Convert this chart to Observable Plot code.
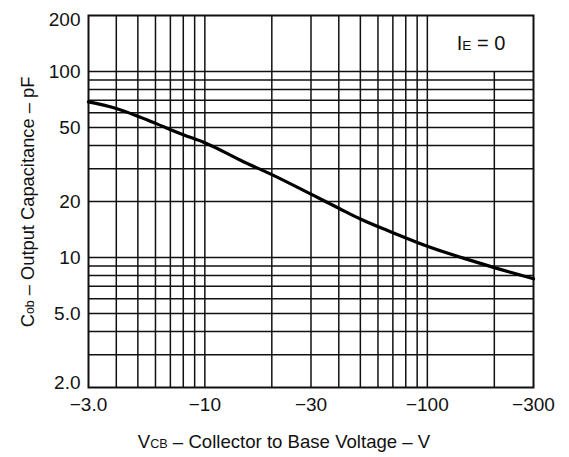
<!DOCTYPE html>
<html>
<head>
<meta charset="utf-8">
<script src="https://cdn.jsdelivr.net/npm/d3@7"></script>
<script src="https://cdn.jsdelivr.net/npm/@observablehq/plot@0.6"></script>
<style>
  html, body { margin: 0; padding: 0; background: #fff; }
  svg { display: block; }
</style>
</head>
<body>
<div id="chart"></div>
<script>
// Collector-base reverse voltage magnitude (V) and output capacitance (pF)
const vcb = [3, 4, 5, 6, 8, 10, 15, 20, 30, 40, 50, 70, 100, 150, 200, 300];
const cob = [68.6, 63.2, 57.4, 52.6, 45.7, 41.4, 32.6, 27.9, 21.9, 18.4, 16.1, 13.6, 11.5, 9.8, 8.82, 7.68];

const xTicks = [3, 10, 30, 100, 300];
const xTickLabels = ["\u22123.0", "\u221210", "\u221230", "\u2212100", "\u2212300"];
const yTicksMid = [5, 10, 20, 50, 100];
const yTickLabels = {2: "2.0", 5: "5.0", 10: "10", 20: "20", 50: "50", 100: "100", 200: "200"};

const xGrid = [4, 5, 6, 7, 8, 9, 10, 20, 30, 40, 50, 60, 70, 80, 90, 100];
const xGridShort = [200];
const yGrid = [3, 4, 5, 6, 7, 8, 9, 10, 20, 30, 40, 50, 60, 70, 80, 90, 100];

const curve = vcb.map((v, i) => ({v, c: cob[i]}));
const FONT = "Liberation Sans, Arial, Helvetica, sans-serif";
const ink = "#111";

const chart = Plot.plot({
  width: 569,
  height: 457,
  marginLeft: 88,
  marginRight: 36,
  marginTop: 15,
  marginBottom: 70,
  style: {fontFamily: FONT, background: "#fff", color: ink},
  x: {type: "log", domain: [3, 300]},
  y: {type: "log", domain: [2, 200]},
  marks: [
    Plot.ruleX(xGrid, {y1: 2, y2: 200, stroke: ink, strokeWidth: 1.5}),
    Plot.ruleX(xGridShort, {y1: 2, y2: 100, stroke: ink, strokeWidth: 1.5}),
    Plot.ruleY(yGrid, {x1: 3, x2: 300, stroke: ink, strokeWidth: 1.5}),
    Plot.frame({stroke: ink, strokeWidth: 2}),
    Plot.line(curve, {x: "v", y: "c", curve: "monotone-x", stroke: "#000", strokeWidth: 3.2}),
    Plot.axisX({ticks: xTicks, tickFormat: d => xTickLabels[xTicks.indexOf(d)], tickSize: 0, tickPadding: 10, fontSize: 19, label: null, fill: ink}),
    Plot.axisY({ticks: yTicksMid, tickFormat: d => yTickLabels[d], tickSize: 0, tickPadding: 8, fontSize: 19, label: null, fill: ink}),
    Plot.axisY({ticks: [200], tickFormat: d => yTickLabels[d], tickSize: 0, tickPadding: 8, fontSize: 19, label: null, dy: 4, fill: ink}),
    Plot.axisY({ticks: [2], tickFormat: d => yTickLabels[d], tickSize: 0, tickPadding: 8, fontSize: 19, label: null, dy: -5, fill: ink})
  ]
});

document.getElementById("chart").append(chart);

// Axis titles and annotation with small baseline "subscripts"
const svg = d3.select(chart);
function addLabel(parts, x, y, size, rotate) {
  const t = svg.append("text")
    .attr("x", x).attr("y", y)
    .attr("text-anchor", "middle")
    .attr("font-family", FONT)
    .attr("font-size", size)
    .attr("fill", ink);
  if (rotate) t.attr("transform", `rotate(-90, ${x}, ${y})`);
  for (const [s, small] of parts) {
    t.append("tspan").attr("font-size", small ? size * 0.68 : size).text(s);
  }
}
addLabel([["V", false], ["CB", true], [" \u2013 Collector to Base Voltage \u2013 V", false]], 284, 448, 18.6, false);
addLabel([["C", false], ["ob", true], [" \u2013 Output Capacitance \u2013 pF", false]], 34, 202, 18.3, true);
addLabel([["I", false], ["E", true], [" = 0", false]], 481, 50, 20, false);
</script>
</body>
</html>
